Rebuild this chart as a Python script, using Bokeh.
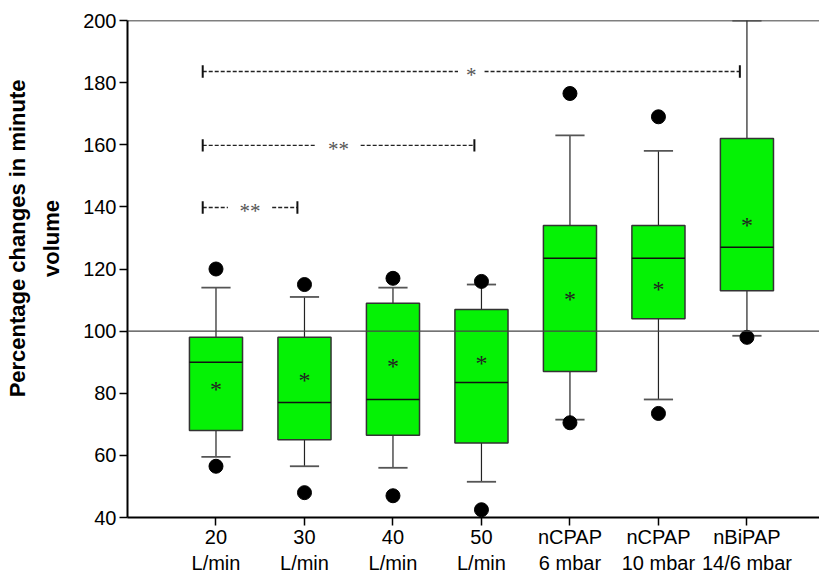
from bokeh.plotting import figure
from bokeh.models import Span, FixedTicker, Range1d
from bokeh.core.properties import value
from bokeh.embed import file_html
from bokeh.resources import INLINE

# ---- data ----
categories = ["20\nL/min", "30\nL/min", "40\nL/min", "50\nL/min",
              "nCPAP\n6 mbar", "nCPAP\n10 mbar", "nBiPAP\n14/6 mbar"]
q1 = [68, 65, 66.5, 64, 87, 104, 113]
median = [90, 77, 78, 83.5, 123.5, 123.5, 127]
q3 = [98, 98, 109, 107, 134, 134, 162]
mean = [82.5, 85.5, 90, 91, 111.5, 115, 135.5]
whisk_lo = [59.5, 56.5, 56, 51.5, 71.5, 78, 98.5]
whisk_hi = [114, 111, 114, 115, 163, 158, 200]
outliers = [[56.5, 120], [48, 115], [47, 117], [42.5, 116],
            [70.5, 176.5], [73.5, 169], [98]]
y_ticks = [40, 60, 80, 100, 120, 140, 160, 180, 200]
reference_level = 100
y_title_lines = ["Percentage changes in minute", "volume"]
# significance brackets: (left group, right group, y level, label)
brackets = [(1, 2, 139.8, "**"), (1, 4, 159.8, "**"), (1, 7, 183.6, "*")]

xs = list(range(1, len(categories) + 1))
GREEN = "#05f205"
FONT = "Liberation Sans"
SERIF = "Liberation Serif"

p = figure(width=819, height=576, output_backend="svg", toolbar_location=None,
           x_range=Range1d(0, 7.82), y_range=Range1d(40, 200),
           min_border_left=127, min_border_right=0, min_border_top=20,
           min_border_bottom=0)
p.outline_line_color = None
p.xgrid.visible = False
p.ygrid.visible = False

# whiskers
bw = 0.6
cw = 0.33
p.segment(x0=xs, y0=q3, x1=xs, y1=whisk_hi, line_color="#222222", line_width=1.2)
p.segment(x0=xs, y0=q1, x1=xs, y1=whisk_lo, line_color="#222222", line_width=1.2)
p.segment(x0=[x - cw / 2 for x in xs], y0=whisk_hi, x1=[x + cw / 2 for x in xs],
          y1=whisk_hi, line_color="#555555", line_width=1.8)
p.segment(x0=[x - cw / 2 for x in xs], y0=whisk_lo, x1=[x + cw / 2 for x in xs],
          y1=whisk_lo, line_color="#555555", line_width=1.8)

# boxes
p.vbar(x=xs, width=bw, top=q3, bottom=q1, fill_color=GREEN,
       line_color="#333333", line_width=1.5)
p.segment(x0=[x - bw / 2 for x in xs], y0=median, x1=[x + bw / 2 for x in xs],
          y1=median, line_color="#111111", line_width=1.5)

# means
p.text(x=xs, y=mean, text=["*"] * len(xs), text_font=value(SERIF),
       text_font_size="24px", text_align="center", text_baseline="middle",
       y_offset=4, text_color="#222222")

# outliers
ox = [xs[i] for i, grp in enumerate(outliers) for _ in grp]
oy = [v for grp in outliers for v in grp]
p.scatter(x=ox, y=oy, size=14, color="black")

# reference line and top border
p.add_layout(Span(location=reference_level, dimension="width",
                  line_color="#444444", line_width=1.2))
p.add_layout(Span(location=200, dimension="width", line_color="black",
                  line_width=1.5))

# significance brackets
for a, b, yv, lab in brackets:
    x0 = a - 0.15
    x1 = b - 0.08
    xm = (x0 + x1) / 2
    gap = 0.05 + 0.1 * len(lab)
    p.segment(x0=[x0, xm + gap], y0=[yv, yv], x1=[xm - gap, x1], y1=[yv, yv],
              line_color="#222222", line_width=1.4, line_dash="4 2")
    p.segment(x0=[x0, x1], y0=[yv - 2, yv - 2], x1=[x0, x1], y1=[yv + 2, yv + 2],
              line_color="#111111", line_width=2)
    p.text(x=[xm], y=[yv], text=[lab], text_font=value(SERIF), text_font_size="21px",
           text_align="center", text_baseline="middle", y_offset=4,
           text_color="#555555")

# axes
p.yaxis.ticker = FixedTicker(ticks=y_ticks)
p.yaxis.minor_tick_line_color = None
p.yaxis.major_tick_in = 0
p.yaxis.major_tick_out = 8
p.yaxis.axis_line_width = 2
p.yaxis.major_tick_line_width = 1.5
p.yaxis.major_label_text_font = FONT
p.yaxis.major_label_text_font_size = "20px"
p.yaxis.major_label_text_color = "black"
p.yaxis.major_label_standoff = 3
pad = "\u00a0" * 10
p.yaxis.axis_label = "\n".join(pad + s for s in y_title_lines)
p.yaxis.axis_label_text_font = FONT
p.yaxis.axis_label_text_font_size = "22px"
p.yaxis.axis_label_text_font_style = "bold"
p.yaxis.axis_label_text_color = "black"
p.yaxis.axis_label_text_line_height = 1.35
p.yaxis.axis_label_standoff = 16

p.xaxis.ticker = FixedTicker(ticks=xs)
p.xaxis.major_label_overrides = {x: c for x, c in zip(xs, categories)}
p.xaxis.minor_tick_line_color = None
p.xaxis.major_tick_in = 0
p.xaxis.major_tick_out = 8
p.xaxis.axis_line_width = 2
p.xaxis.major_tick_line_width = 1.5
p.xaxis.major_label_text_font = FONT
p.xaxis.major_label_text_font_size = "20px"
p.xaxis.major_label_text_color = "black"
p.xaxis.major_label_standoff = 0

open("out.html", "w").write(file_html(p, INLINE))
